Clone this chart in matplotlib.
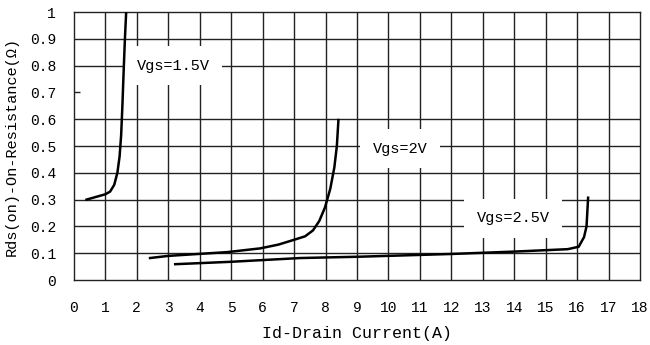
import numpy as np
import matplotlib
matplotlib.use('Agg')
import matplotlib.pyplot as plt

plt.rcParams['font.family'] = ['Liberation Mono', 'DejaVu Sans Mono']

# curve data (Id in A, Rds(on) in ohm)
id_15 = [0.40, 0.70, 1.00, 1.15, 1.28, 1.38, 1.45, 1.50, 1.54, 1.58, 1.62, 1.66]
rds_15 = [0.30, 0.31, 0.32, 0.33, 0.355, 0.40, 0.46, 0.54, 0.65, 0.78, 0.90, 1.00]

id_20 = [2.42, 3.0, 3.8, 4.87, 5.92, 6.5, 6.97, 7.35, 7.6, 7.8, 7.98, 8.15, 8.28, 8.36, 8.41]
rds_20 = [0.082, 0.09, 0.096, 0.104, 0.118, 0.132, 0.149, 0.163, 0.185, 0.22, 0.27, 0.34, 0.42, 0.50, 0.597]

id_25 = [3.22, 5.0, 7.2, 9.1, 11.97, 14.0, 15.7, 16.05, 16.22, 16.3, 16.35]
rds_25 = [0.059, 0.068, 0.082, 0.087, 0.097, 0.106, 0.115, 0.124, 0.16, 0.20, 0.307]

labels = ['Vgs=1.5V', 'Vgs=2V', 'Vgs=2.5V']
label_pos = [(2.0, 0.80), (9.5, 0.49), (12.8, 0.23)]

x_ticks = np.arange(0, 19)
y_ticks = [0, 0.1, 0.2, 0.3, 0.4, 0.5, 0.6, 0.7, 0.8, 0.9, 1]
y_ticklabels = ['0', '0.1', '0.2', '0.3', '0.4', '0.5', '0.6', '0.7', '0.8', '0.9', '1']
y_grid = [0.1, 0.2, 0.3, 0.4, 0.5, 0.6, 0.8, 0.9]   # 0.7 line is missing

fig = plt.figure(figsize=(6.5, 3.45), dpi=100)
ax = fig.add_axes([0.1138, 0.1884, 0.8708, 0.7768])
ax.set_xlim(0, 18)
ax.set_ylim(0, 1)

# grid
ax.vlines(x_ticks[1:-1], 0, 1, color='#222222', lw=1.0, zorder=1)
ax.hlines(y_grid, 0, 18, color='#222222', lw=1.0, zorder=1)
ax.hlines([0.7], 0, 0.2, color='#222222', lw=1.0, zorder=1)

# curves
for xs, ys in [(id_15, rds_15), (id_20, rds_20), (id_25, rds_25)]:
    ax.plot(xs, ys, color='black', lw=1.8, zorder=4)

for txt, (tx, ty) in zip(labels, label_pos):
    ax.text(tx, ty, txt, fontsize=11, va='center', ha='left', zorder=3,
            bbox=dict(facecolor='white', edgecolor='none', pad=9))

ax.set_xticks(x_ticks)
ax.set_yticks(y_ticks)
ax.set_yticklabels(y_ticklabels)
ax.tick_params(length=0, labelsize=10.5)
ax.tick_params(axis='x', pad=15)
ax.tick_params(axis='y', pad=13)
for s in ax.spines.values():
    s.set_color('#222222')
    s.set_linewidth(1.0)

ax.set_xlabel('Id-Drain Current(A)', fontsize=12, labelpad=8)
ax.set_ylabel('Rds(on)-On-Resistance(Ω)', fontsize=11, labelpad=8)

fig.savefig('out.png', dpi=100)
